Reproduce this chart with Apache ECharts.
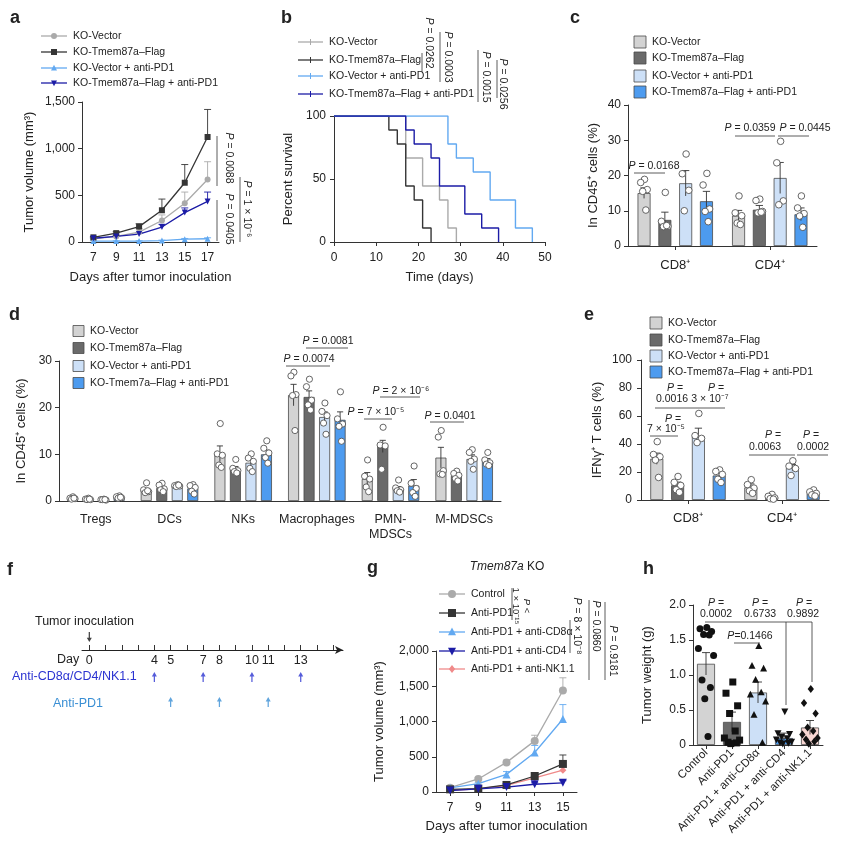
<!DOCTYPE html>
<html>
<head>
<meta charset="utf-8">
<script src="https://cdn.jsdelivr.net/npm/echarts@6/dist/echarts.min.js"></script>
<style>html,body{margin:0;background:#fff}#chart{width:842px;height:862px}</style>
</head>
<body>
<div id="chart"></div>
<script>
// figure panels a-h, one echarts instance with several grids
const FONT = '"Liberation Sans", Arial, Helvetica, sans-serif';
const INK = '#222';

// ---- a: tumour growth (mm3)
const aDays = ['7', '9', '11', '13', '15', '17'];
const aVector = [35, 60, 105, 230, 415, 670];
const aVectorErr = [8, 12, 40, 60, 120, 190];
const aTmem = [50, 95, 165, 340, 635, 1125];
const aTmemErr = [8, 15, 30, 120, 195, 295];
const aVectorPD1 = [10, 10, 10, 15, 30, 35];
const aVectorPD1Err = [3, 3, 3, 5, 8, 10];
const aTmemPD1 = [40, 60, 85, 160, 315, 435];
const aTmemPD1Err = [5, 10, 15, 30, 50, 100];

// ---- b: survival (day, %)
const bVector = [[0, 100], [17, 66.7], [21, 44.4], [25, 33.3], [27, 11.1], [29, 0]];
const bTmem = [[0, 100], [13, 88.9], [15, 77.8], [17, 44.4], [19, 33.3], [21, 11.1], [23, 0]];
const bVectorPD1 = [[0, 100], [27, 77.8], [29, 66.7], [33, 55.6], [37, 33.3], [43, 11.1], [47, 0]];
const bTmemPD1 = [[0, 100], [17, 88.9], [19, 77.8], [23, 66.7], [25, 44.4], [31, 22.2], [35, 11.1], [39, 0]];

// ---- c: CD8/CD4 in CD45+
const cCats = ['CD8⁺', 'CD4⁺'];
const cVector = [15.0, 8.6], cVectorErr = [1.5, 1.5];
const cTmem = [7.4, 10.3], cTmemErr = [2.2, 1.2];
const cVectorPD1 = [17.8, 19.3], cVectorPD1Err = [3.6, 4.4];
const cTmemPD1 = [12.7, 9.0], cTmemPD1Err = [2.8, 1.8];
const cVectorPts = [[18.9, 18.0, 16.0, 15.5, 10.2], [14.2, 9.4, 8.6, 6.5, 6.1]];
const cTmemPts = [[15.2, 7.0, 5.6, 5.5, 5.8], [13.3, 12.9, 9.8, 9.4, 9.6]];
const cVectorPD1Pts = [[26.1, 20.5, 15.8, 10.0], [29.7, 23.6, 12.8, 11.7]];
const cTmemPD1Pts = [[20.6, 17.3, 10.5, 9.8, 6.9], [14.2, 10.8, 9.2, 8.5, 5.3]];

// ---- d: immune populations in CD45+
const dCats = ['Tregs', 'DCs', 'NKs', 'Macrophages', 'PMN-\nMDSCs', 'M-MDSCs'];
const dVector = [0.6, 2.3, 10.1, 22.7, 4.7, 9.3], dVectorErr = [0.15, 0.4, 1.7, 2.3, 1.4, 2.2];
const dTmem = [0.4, 2.8, 6.8, 22.3, 11.7, 5.4], dTmemErr = [0.1, 0.4, 0.6, 1.3, 1.3, 0.5];
const dVectorPD1 = [0.3, 3.3, 8.2, 18.0, 2.6, 9.0], dVectorPD1Err = [0.1, 0.1, 0.8, 1.1, 0.5, 0.9];
const dTmemPD1 = [0.8, 2.7, 10.0, 17.4, 3.3, 8.5], dTmemPD1Err = [0.15, 0.4, 0.9, 1.7, 1.3, 0.6];
const dVectorPts = [[0.9, 0.6, 0.5, 0.4, 0.6], [3.9, 2.4, 2.0, 1.8, 2.2], [16.6, 10.1, 9.8, 7.7, 7.2], [27.6, 26.8, 22.8, 22.6, 15.1], [8.8, 5.3, 4.7, 3.0, 2.0], [15.1, 13.7, 6.5, 5.8, 5.7]];
const dTmemPts = [[0.6, 0.4, 0.3, 0.3, 0.4], [3.8, 3.4, 2.6, 2.4, 2.0], [8.9, 7.0, 6.5, 6.3, 6.0], [26.1, 24.5, 21.6, 20.6, 19.5], [15.8, 12.0, 11.8, 6.8], [6.4, 5.9, 5.5, 4.8, 4.3]];
const dVectorPD1Pts = [[0.4, 0.3, 0.2, 0.3, 0.3], [3.5, 3.3, 3.2, 3.1, 3.4], [10.1, 9.2, 8.5, 7.0, 6.3], [21.0, 19.2, 18.3, 16.7, 14.3], [4.5, 2.8, 2.4, 2.2, 1.9], [11.0, 10.4, 9.0, 8.5, 6.8]];
const dTmemPD1Pts = [[1.1, 0.9, 0.7, 0.6, 0.8], [3.5, 3.3, 2.9, 2.1, 1.5], [12.9, 11.3, 10.3, 9.3, 8.1], [23.4, 17.6, 16.5, 16.0, 12.8], [7.5, 3.8, 2.7, 1.8, 1.0], [10.4, 8.8, 8.2, 7.9, 7.6]];

// ---- e: IFNg+ T cells
const eCats = ['CD8⁺', 'CD4⁺'];
const eVector = [29.5, 9.0], eVectorErr = [4.0, 2.5];
const eTmem = [10.5, 2.0], eTmemErr = [2.3, 0.8];
const eVectorPD1 = [45.5, 23.0], eVectorPD1Err = [5.8, 2.4];
const eTmemPD1 = [17.5, 4.8], eTmemPD1Err = [2.0, 0.9];
const eVectorPts = [[41.7, 32.5, 30.9, 28.5, 16.1], [14.5, 11.0, 8.5, 6.5, 4.8]];
const eTmemPts = [[16.8, 12.6, 10.4, 7.3, 5.5], [4.0, 2.6, 1.5, 1.0, 0.6]];
const eVectorPD1Pts = [[61.8, 46.0, 44.0, 41.0], [28.0, 24.2, 22.5, 17.5]];
const eTmemPD1Pts = [[21.5, 20.4, 18.3, 14.8, 12.5], [7.2, 5.8, 4.7, 3.7, 2.8]];

// ---- f: schedule
const fTickDays = [0, 1, 2, 3, 4, 5, 6, 7, 8, 9, 10, 11, 12, 13, 14, 15];
const fLabelDays = [0, 4, 5, 7, 8, 10, 11, 13];
const fDepletionDays = [4, 7, 10, 13];
const fPD1Days = [5, 8, 11];
const fInoculationDays = [0];

// ---- g: growth with depletion
const gDays = ['7', '9', '11', '13', '15'];
const gControl = [62, 185, 420, 725, 1440], gControlErr = [10, 20, 30, 80, 180];
const gPD1 = [38, 47, 100, 227, 398], gPD1Err = [5, 10, 20, 40, 127];
const gCD8 = [57, 118, 250, 560, 1035], gCD8Err = [8, 15, 40, 100, 205];
const gCD4 = [20, 45, 70, 110, 130], gCD4Err = [3, 8, 10, 20, 30];
const gNK = [25, 45, 95, 200, 310], gNKErr = [3, 8, 15, 30, 60];

// ---- h: tumour weight (g)
const hCats = ['Control', 'Anti-PD1', 'Anti-PD1 + anti-CD8α', 'Anti-PD1 + anti-CD4', 'Anti-PD1 + anti-NK1.1'];
const hMeans = [1.16, 0.33, 0.75, 0.10, 0.25];
const hErr = [0.16, 0.14, 0.15, 0.07, 0.10];
const hPts = [
  [1.68, 1.66, 1.62, 1.58, 1.57, 1.38, 1.28, 0.93, 0.82, 0.66, 0.12],
  [0.90, 0.74, 0.56, 0.45, 0.20, 0.10, 0.07, 0.04, 0.03, 0.02],
  [1.41, 1.13, 1.09, 0.93, 0.75, 0.72, 0.62, 0.43, 0.03],
  [0.48, 0.17, 0.16, 0.12, 0.10, 0.08, 0.05, 0.04, 0.03, 0.02],
  [0.80, 0.60, 0.45, 0.25, 0.20, 0.15, 0.10, 0.08, 0.05, 0.02]
];

// colours
const C_LGRAY = '#aaaaaa', C_DARK = '#353535', C_LBLUE = '#62a9f1', C_NAVY = '#1c1ca6', C_SALMON = '#f08a8a';
const B_GRAY = '#d3d3d3', B_DARK = '#6a6a6a', B_PALE = '#cde0f7', B_BLUE = '#4d9bef', B_PINK = '#f7d6d2';
const hColors = [B_GRAY, B_DARK, B_PALE, B_BLUE, B_PINK];
const hShapes = ['circle', 'rect', 'tri', 'triDown', 'diamond'];
const JIT = [0.1, -0.75, 0.7, -0.3, 0.4, -0.95, 0.95, -0.5, 0.55, -0.15, 0.25];

function shapeEl(kind, cx, cy, s, fill, stroke, lw) {
  const h = s / 2;
  const style = { fill: fill, stroke: stroke || fill, lineWidth: lw || 0 };
  if (kind === 'circle') return { type: 'circle', shape: { cx: cx, cy: cy, r: h }, style: style };
  if (kind === 'rect') return { type: 'rect', shape: { x: cx - h, y: cy - h, width: s, height: s }, style: style };
  if (kind === 'tri') return { type: 'polygon', shape: { points: [[cx, cy - h * 1.1], [cx + h, cy + h * 0.8], [cx - h, cy + h * 0.8]] }, style: style };
  if (kind === 'triDown') return { type: 'polygon', shape: { points: [[cx, cy + h * 1.1], [cx + h, cy - h * 0.8], [cx - h, cy - h * 0.8]] }, style: style };
  return { type: 'polygon', shape: { points: [[cx, cy - h * 1.15], [cx + h * 0.9, cy], [cx, cy + h * 1.15], [cx - h * 0.9, cy]] }, style: style };
}

function ax(o) {
  const base = {
    axisLine: { show: true, onZero: false, lineStyle: { color: '#333', width: 1 } },
    axisTick: { show: true, length: 4, lineStyle: { color: '#333', width: 1 } },
    axisLabel: { color: INK, fontSize: 12, fontFamily: FONT, margin: 7 },
    splitLine: { show: false },
    nameLocation: 'middle',
    nameTextStyle: { color: INK, fontSize: 13, fontFamily: FONT }
  };
  for (const k in o) {
    if (base[k] && typeof base[k] === 'object' && typeof o[k] === 'object' && !Array.isArray(o[k])) base[k] = Object.assign({}, base[k], o[k]);
    else base[k] = o[k];
  }
  return base;
}
const thousands = v => v.toLocaleString('en-US');

// grouped bars + SEM + dots
function groupedSeries(gi, groups, bw, gapFrac, ptR, spread) {
  const n = groups.length;
  const total = n * bw + (n - 1) * bw * gapFrac;
  const off = i => -total / 2 + bw / 2 + i * bw * (1 + gapFrac);
  const out = [];
  groups.forEach(g => {
    out.push({ type: 'bar', name: g.name, xAxisIndex: gi, yAxisIndex: gi, data: g.means, barWidth: bw,
      barGap: (gapFrac * 100) + '%', itemStyle: { color: g.color, borderColor: '#4a4a4a', borderWidth: 0.8 } });
  });
  const errData = [], ptData = [];
  groups.forEach((g, i) => {
    g.means.forEach((m, c) => errData.push([c, m, g.errs[c], i]));
    g.pts.forEach((arr, c) => arr.forEach((v, k) => ptData.push([c, v, i, k])));
  });
  out.push({ type: 'custom', xAxisIndex: gi, yAxisIndex: gi, data: errData, z: 3,
    renderItem: (p, api) => {
      const c = api.value(0), m = api.value(1), e = api.value(2), i = api.value(3);
      const lo = api.coord([c, Math.max(0, m - e)]), hi = api.coord([c, m + e]);
      const x = hi[0] + off(i), cap = bw * 0.28;
      const st = { stroke: '#333', lineWidth: 0.9 };
      return { type: 'group', children: [
        { type: 'line', shape: { x1: x, y1: lo[1], x2: x, y2: hi[1] }, style: st },
        { type: 'line', shape: { x1: x - cap, y1: hi[1], x2: x + cap, y2: hi[1] }, style: st }
      ] };
    } });
  out.push({ type: 'custom', xAxisIndex: gi, yAxisIndex: gi, data: ptData, z: 4,
    renderItem: (p, api) => {
      const c = api.value(0), v = api.value(1), i = api.value(2), k = api.value(3);
      const q = api.coord([c, v]);
      return shapeEl('circle', q[0] + off(i) + JIT[k % JIT.length] * spread, q[1], ptR * 2, '#fff', '#555', 0.9);
    } });
  return out;
}

function lineSeries(gi, data, color, symbol, size, rot) {
  return { type: 'line', xAxisIndex: gi, yAxisIndex: gi, data: data, symbol: symbol, symbolSize: size,
    symbolRotate: rot || 0, lineStyle: { color: color, width: 1.3 }, itemStyle: { color: color }, z: 3 };
}
function lineErr(gi, means, errs, color) {
  return { type: 'custom', xAxisIndex: gi, yAxisIndex: gi, data: means.map((m, i) => [i, m, errs[i]]), z: 2,
    renderItem: (p, api) => {
      const a = api.coord([api.value(0), api.value(1)]), b = api.coord([api.value(0), api.value(1) + api.value(2)]);
      const st = { stroke: color, lineWidth: 0.9 };
      return { type: 'group', children: [
        { type: 'line', shape: { x1: a[0], y1: a[1], x2: b[0], y2: b[1] }, style: st },
        { type: 'line', shape: { x1: b[0] - 3.5, y1: b[1], x2: b[0] + 3.5, y2: b[1] }, style: st }
      ] };
    } };
}
function stepSeries(data, color) {
  return { type: 'line', xAxisIndex: 1, yAxisIndex: 1, data: data, step: 'end', symbol: 'none',
    lineStyle: { color: color, width: 1.4 } };
}
function arrows(days, row, color, rot) {
  return { type: 'scatter', xAxisIndex: 5, yAxisIndex: 5, clip: false, data: days.map(d => [d, row]),
    symbol: 'path://M4,0 L8,7 L5,7 L5,16 L3,16 L3,7 L0,7 Z', symbolSize: [5, 10], symbolRotate: rot || 0,
    itemStyle: { color: color } };
}

// ---- graphic text / lines
const G = [];
const richP = (size, color) => ({ i: { fontStyle: 'italic', fontSize: size, fontFamily: FONT, fill: color || INK }, n: { fontSize: size, fontFamily: FONT, fill: color || INK } });
function T(x, y, text, o) {
  o = o || {};
  const size = o.size || 10.5;
  G.push({ type: 'text', x: x, y: y, rotation: o.rot || 0, silent: true, z: 100,
    style: { text: text, fill: o.color || INK, font: (o.style || 'normal') + ' ' + (o.weight || 'normal') + ' ' + size + 'px ' + FONT,
      align: o.align || 'left', verticalAlign: o.valign || 'middle', rich: o.rich || richP(size, o.color), lineHeight: o.lh } });
}
function P(x, y, val, o) { o = Object.assign({ align: 'center' }, o || {}); T(x, y, '{i|P} ' + val, o); }
function L(x1, y1, x2, y2, w) { G.push({ type: 'line', silent: true, z: 100, shape: { x1: x1, y1: y1, x2: x2, y2: y2 }, style: { stroke: '#333', lineWidth: w || 0.8 } }); }
function legLine(y, x1, x2, color, kind, size, label) {
  L(x1, y, x2, y, 1.3); G[G.length - 1].style.stroke = color;
  if (kind === 'tick') L((x1 + x2) / 2, y - 3, (x1 + x2) / 2, y + 3, 1);
  else G.push(Object.assign(shapeEl(kind, (x1 + x2) / 2, y, size, color), { silent: true, z: 100 }));
  if (kind === 'tick') G[G.length - 1].style.stroke = color;
  T(x2 + 6, y, label);
}
function legSq(x, y, s, color, label) {
  G.push({ type: 'rect', silent: true, z: 100, shape: { x: x, y: y - s / 2, width: s, height: s }, style: { fill: color, stroke: '#4a4a4a', lineWidth: 0.8 } });
  T(x + s + 6, y, label);
}
const letter = (x, y, t) => T(x, y, t, { size: 18, weight: 'bold' });
const ROT = -Math.PI / 2;

// a
letter(10, 18, 'a');
legLine(36, 41, 67, C_LGRAY, 'circle', 6, 'KO-Vector');
legLine(52, 41, 67, C_DARK, 'rect', 6, 'KO-Tmem87a–Flag');
legLine(68, 41, 67, C_LBLUE, 'tri', 6, 'KO-Vector + anti-PD1');
legLine(83, 41, 67, C_NAVY, 'triDown', 6, 'KO-Tmem87a–Flag + anti-PD1');
P(229, 158, '= 0.0088', { rot: ROT }); L(217, 136, 217, 186);
P(229, 219, '= 0.0405', { rot: ROT }); L(217, 200, 217, 241);
P(247, 209, '= 1 × 10⁻⁶', { rot: ROT }); L(240, 177, 240, 242);
// b
letter(281, 18, 'b');
legLine(42, 298, 323, C_LGRAY, 'tick', 0, 'KO-Vector');
legLine(60, 298, 323, C_DARK, 'tick', 0, 'KO-Tmem87a–Flag');
legLine(76, 298, 323, C_LBLUE, 'tick', 0, 'KO-Vector + anti-PD1');
legLine(94, 298, 323, C_NAVY, 'tick', 0, 'KO-Tmem87a–Flag + anti-PD1');
P(429, 43, '= 0.0262', { rot: ROT }); L(422, 53, 422, 72);
P(448, 57, '= 0.0003', { rot: ROT }); L(440, 32, 440, 82);
P(486, 77, '= 0.0015', { rot: ROT }); L(478, 50, 478, 102);
P(503, 84, '= 0.0256', { rot: ROT }); L(497, 60, 497, 98);
// c
letter(570, 18, 'c');
legSq(634, 42, 12, B_GRAY, 'KO-Vector');
legSq(634, 58, 12, B_DARK, 'KO-Tmem87a–Flag');
legSq(634, 76, 12, B_PALE, 'KO-Vector + anti-PD1');
legSq(634, 92, 12, B_BLUE, 'KO-Tmem87a–Flag + anti-PD1');
P(654, 166, '= 0.0168'); L(634, 173, 665, 173);
P(750, 128, '= 0.0359'); L(735, 136, 775, 136);
P(805, 128, '= 0.0445'); L(778, 136, 809, 136);
// d
letter(9, 315, 'd');
legSq(73, 331, 11, B_GRAY, 'KO-Vector');
legSq(73, 348, 11, B_DARK, 'KO-Tmem87a–Flag');
legSq(73, 366, 11, B_PALE, 'KO-Vector + anti-PD1');
legSq(73, 383, 11, B_BLUE, 'KO-Tmem7a–Flag + anti-PD1');
P(328, 341, '= 0.0081'); L(306, 348, 348, 348);
P(309, 359, '= 0.0074'); L(286, 366, 330, 366);
P(401, 391, '= 2 × 10⁻⁶'); L(380, 397, 420, 397);
P(376, 412, '= 7 × 10⁻⁵'); L(364, 419, 392, 419);
P(450, 416, '= 0.0401'); L(430, 422, 464, 422);
// e
letter(584, 315, 'e');
legSq(650, 323, 12, B_GRAY, 'KO-Vector');
legSq(650, 340, 12, B_DARK, 'KO-Tmem87a–Flag');
legSq(650, 356, 12, B_PALE, 'KO-Vector + anti-PD1');
legSq(650, 372, 12, B_BLUE, 'KO-Tmem87a–Flag + anti-PD1');
P(675, 388, '='); T(672, 399, '0.0016', { align: 'center' });
P(716, 388, '='); T(710, 399, '3 × 10⁻⁷', { align: 'center' }); L(655, 408, 725, 408);
P(673, 419, '='); T(666, 429, '7 × 10⁻⁵', { align: 'center' }); L(650, 436, 678, 436);
P(773, 435, '='); T(765, 447, '0.0063', { align: 'center' }); L(749, 455, 795, 455);
P(811, 435, '='); T(813, 447, '0.0002', { align: 'center' }); L(797, 455, 828, 455);
// f
letter(7, 570, 'f');
T(35, 622, 'Tumor inoculation', { size: 12.5 });
T(57, 660, 'Day', { size: 12.5 });
T(12, 677, 'Anti-CD8α/CD4/NK1.1', { size: 12.5, color: '#2b33d1' });
T(53, 704, 'Anti-PD1', { size: 12.5, color: '#3a8fd4' });
// g
letter(367, 568, 'g');
T(507, 567, '{it|Tmem87a} KO', { size: 12, align: 'center', rich: { it: { fontStyle: 'italic', fontSize: 12, fontFamily: FONT, fill: INK } } });
legLine(594, 439, 465, C_LGRAY, 'circle', 8, 'Control');
legLine(613, 439, 465, C_DARK, 'rect', 8, 'Anti-PD1');
legLine(632, 439, 465, C_LBLUE, 'tri', 8, 'Anti-PD1 + anti-CD8α');
legLine(651, 439, 465, C_NAVY, 'triDown', 8, 'Anti-PD1 + anti-CD4');
legLine(669, 439, 465, C_SALMON, 'diamond', 7, 'Anti-PD1 + anti-NK1.1');
T(521, 606, '{i|P} <\n1 × 10⁻¹⁵', { rot: ROT, align: 'center', size: 9.5, lh: 11 }); L(512, 588, 512, 620);
P(577, 626, '= 8 × 10⁻⁸', { rot: ROT }); L(570, 620, 570, 653);
P(596, 626, '= 0.0860', { rot: ROT }); L(589, 600, 589, 680);
P(613, 651, '= 0.9181', { rot: ROT }); L(605, 602, 605, 680);
// h
letter(643, 569, 'h');
P(716, 603, '='); T(716, 614, '0.0002', { align: 'center' });
P(760, 603, '='); T(760, 614, '0.6733', { align: 'center' });
P(804, 603, '='); T(803, 614, '0.9892', { align: 'center' });
L(705, 622, 812, 622); L(786, 622, 786, 705); L(812, 622, 812, 682);
T(750, 636, '{i|P}=0.1466', { align: 'center' }); L(734, 643, 760, 643);

const chart = echarts.init(document.getElementById('chart'), null, { renderer: 'canvas' });
chart.setOption({
  backgroundColor: '#fff',
  animation: false,
  textStyle: { fontFamily: FONT },
  grid: [
    { left: 82, top: 102, width: 137, height: 140 },
    { left: 334, top: 116, width: 211, height: 126 },
    { left: 628, top: 105, width: 189, height: 141 },
    { left: 59, top: 361, width: 442, height: 140 },
    { left: 641, top: 360, width: 188, height: 140 },
    { left: 82, top: 630, width: 261, height: 20 },
    { left: 436, top: 651, width: 141, height: 141 },
    { left: 693, top: 605, width: 130, height: 140 }
  ],
  xAxis: [
    ax({ gridIndex: 0, type: 'category', data: aDays, axisTick: { alignWithLabel: true }, axisLabel: { margin: 10 }, name: 'Days after tumor inoculation', nameGap: 29 }),
    ax({ gridIndex: 1, type: 'value', min: 0, max: 50, interval: 10, axisLabel: { margin: 10 }, name: 'Time (days)', nameGap: 29 }),
    ax({ gridIndex: 2, type: 'category', data: cCats, axisTick: { alignWithLabel: true }, axisLabel: { margin: 13, fontSize: 13 } }),
    ax({ gridIndex: 3, type: 'category', data: dCats, axisTick: { show: false }, axisLabel: { interval: 0, margin: 11, fontSize: 12.5, lineHeight: 15 } }),
    ax({ gridIndex: 4, type: 'category', data: eCats, axisTick: { alignWithLabel: true }, axisLabel: { margin: 12, fontSize: 13 } }),
    ax({ gridIndex: 5, type: 'value', min: -0.45, max: 15.6,
      axisLine: { symbol: ['none', 'arrow'], symbolSize: [6, 8], lineStyle: { color: '#222' } },
      axisTick: { inside: true, length: 5, customValues: fTickDays },
      axisLabel: { customValues: fLabelDays, margin: 4, fontSize: 12.5 } }),
    ax({ gridIndex: 6, type: 'category', data: gDays, axisTick: { alignWithLabel: true }, axisLabel: { margin: 10 }, name: 'Days after tumor inoculation', nameGap: 28 }),
    ax({ gridIndex: 7, type: 'category', data: hCats, axisTick: { alignWithLabel: true }, axisLabel: { rotate: 45, interval: 0, fontSize: 11.5, margin: 6 } })
  ],
  yAxis: [
    ax({ gridIndex: 0, type: 'value', min: 0, max: 1500, interval: 500, axisLabel: { formatter: thousands }, name: 'Tumor volume (mm³)', nameRotate: 90, nameGap: 46 }),
    ax({ gridIndex: 1, type: 'value', min: 0, max: 100, interval: 50, axisLabel: { margin: 8 }, name: 'Percent survival', nameRotate: 90, nameGap: 39 }),
    ax({ gridIndex: 2, type: 'value', min: 0, max: 40, interval: 10, name: 'In CD45⁺ cells (%)', nameRotate: 90, nameGap: 28 }),
    ax({ gridIndex: 3, type: 'value', min: 0, max: 30, interval: 10, name: 'In CD45⁺ cells (%)', nameRotate: 90, nameGap: 26 }),
    ax({ gridIndex: 4, type: 'value', min: 0, max: 100, interval: 20, axisLabel: { margin: 9 }, name: 'IFNγ⁺ T cells (%)', nameRotate: 90, nameGap: 37 }),
    { gridIndex: 5, type: 'value', min: 0, max: 20, show: false },
    ax({ gridIndex: 6, type: 'value', min: 0, max: 2000, interval: 500, axisLabel: { formatter: thousands }, name: 'Tumor volume (mm³)', nameRotate: 90, nameGap: 50 }),
    ax({ gridIndex: 7, type: 'value', min: 0, max: 2, interval: 0.5, axisLabel: { formatter: v => v === 0 ? '0' : v.toFixed(1) }, name: 'Tumor weight (g)', nameRotate: 90, nameGap: 39 })
  ],
  series: [
    // a
    lineErr(0, aVector, aVectorErr, C_LGRAY), lineErr(0, aTmem, aTmemErr, C_DARK),
    lineErr(0, aVectorPD1, aVectorPD1Err, C_LBLUE), lineErr(0, aTmemPD1, aTmemPD1Err, C_NAVY),
    lineSeries(0, aVector, C_LGRAY, 'circle', 6), lineSeries(0, aTmem, C_DARK, 'rect', 6),
    lineSeries(0, aVectorPD1, C_LBLUE, 'triangle', 6), lineSeries(0, aTmemPD1, C_NAVY, 'triangle', 6, 180),
    // b
    stepSeries(bVector, C_LGRAY), stepSeries(bTmem, C_DARK), stepSeries(bVectorPD1, C_LBLUE), stepSeries(bTmemPD1, C_NAVY),
    // c
    ...groupedSeries(2, [
      { name: 'KO-Vector', color: B_GRAY, means: cVector, errs: cVectorErr, pts: cVectorPts },
      { name: 'KO-Tmem87a–Flag', color: B_DARK, means: cTmem, errs: cTmemErr, pts: cTmemPts },
      { name: 'KO-Vector + anti-PD1', color: B_PALE, means: cVectorPD1, errs: cVectorPD1Err, pts: cVectorPD1Pts },
      { name: 'KO-Tmem87a–Flag + anti-PD1', color: B_BLUE, means: cTmemPD1, errs: cTmemPD1Err, pts: cTmemPD1Pts }
    ], 13, 0.6, 3.3, 4.5),
    // d
    ...groupedSeries(3, [
      { name: 'KO-Vector', color: B_GRAY, means: dVector, errs: dVectorErr, pts: dVectorPts },
      { name: 'KO-Tmem87a–Flag', color: B_DARK, means: dTmem, errs: dTmemErr, pts: dTmemPts },
      { name: 'KO-Vector + anti-PD1', color: B_PALE, means: dVectorPD1, errs: dVectorPD1Err, pts: dVectorPD1Pts },
      { name: 'KO-Tmem7a–Flag + anti-PD1', color: B_BLUE, means: dTmemPD1, errs: dTmemPD1Err, pts: dTmemPD1Pts }
    ], 11, 0.41, 3.1, 3.5),
    // e
    ...groupedSeries(4, [
      { name: 'KO-Vector', color: B_GRAY, means: eVector, errs: eVectorErr, pts: eVectorPts },
      { name: 'KO-Tmem87a–Flag', color: B_DARK, means: eTmem, errs: eTmemErr, pts: eTmemPts },
      { name: 'KO-Vector + anti-PD1', color: B_PALE, means: eVectorPD1, errs: eVectorPD1Err, pts: eVectorPD1Pts },
      { name: 'KO-Tmem87a–Flag + anti-PD1', color: B_BLUE, means: eTmemPD1, errs: eTmemPD1Err, pts: eTmemPD1Pts }
    ], 13, 0.6, 3.3, 4.5),
    // f: rows are pixel offsets below the timeline (1 unit = 1px)
    arrows(fDepletionDays, -27, '#2b33d1'), arrows(fPD1Days, -52, '#3a8fd4'), arrows(fInoculationDays, 13, '#111', 180),
    // g
    lineErr(6, gControl, gControlErr, C_LGRAY), lineErr(6, gPD1, gPD1Err, C_DARK), lineErr(6, gCD8, gCD8Err, C_LBLUE),
    lineErr(6, gCD4, gCD4Err, C_NAVY), lineErr(6, gNK, gNKErr, C_SALMON),
    lineSeries(6, gControl, C_LGRAY, 'circle', 8), lineSeries(6, gCD8, C_LBLUE, 'triangle', 8),
    lineSeries(6, gNK, C_SALMON, 'diamond', 7), lineSeries(6, gPD1, C_DARK, 'rect', 8),
    lineSeries(6, gCD4, C_NAVY, 'triangle', 8, 180),
    // h
    { type: 'bar', xAxisIndex: 7, yAxisIndex: 7, barWidth: 18,
      data: hMeans.map((v, i) => ({ value: v, itemStyle: { color: hColors[i] } })),
      itemStyle: { borderColor: '#4a4a4a', borderWidth: 0.8 } },
    { type: 'custom', xAxisIndex: 7, yAxisIndex: 7, z: 3, data: hMeans.map((m, c) => [c, m, hErr[c]]),
      renderItem: (p, api) => {
        const lo = api.coord([api.value(0), Math.max(0, api.value(1) - api.value(2))]);
        const hi = api.coord([api.value(0), api.value(1) + api.value(2)]);
        const st = { stroke: '#333', lineWidth: 0.9 };
        return { type: 'group', children: [
          { type: 'line', shape: { x1: hi[0], y1: lo[1], x2: hi[0], y2: hi[1] }, style: st },
          { type: 'line', shape: { x1: hi[0] - 4, y1: hi[1], x2: hi[0] + 4, y2: hi[1] }, style: st }
        ] };
      } },
    { type: 'custom', xAxisIndex: 7, yAxisIndex: 7, z: 4,
      data: hPts.flatMap((arr, c) => arr.map((v, k) => [c, v, k])),
      renderItem: (p, api) => {
        const c = api.value(0), q = api.coord([c, api.value(1)]);
        return shapeEl(hShapes[c], q[0] + JIT[api.value(2) % JIT.length] * 8, q[1], 7, '#111');
      } }
  ],
  graphic: G
});
</script>
</body>
</html>
